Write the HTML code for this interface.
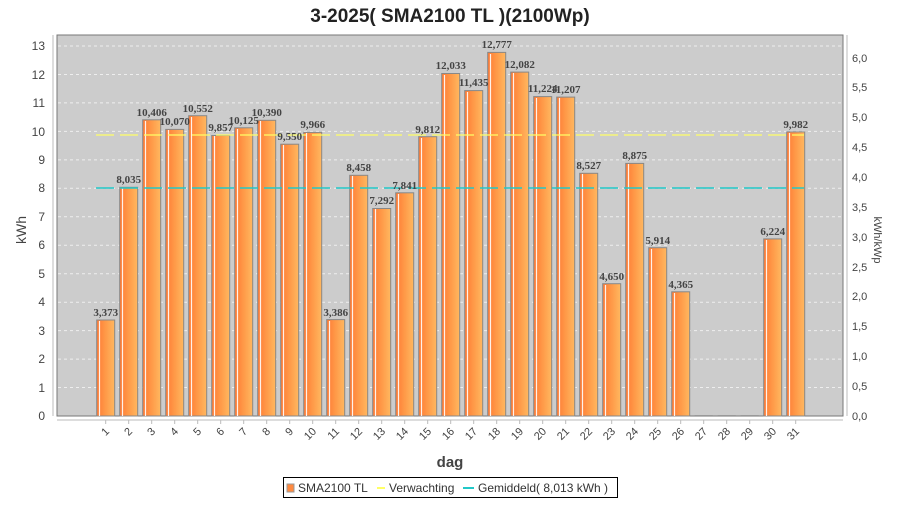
<!DOCTYPE html>
<html><head><meta charset="utf-8"><style>
body{margin:0;background:#fff;}
svg text{font-family:"Liberation Sans",sans-serif;}
svg .v text{font-family:"Liberation Serif",serif;font-weight:bold;font-size:11px;fill:#444;text-anchor:middle;}
.yl{font-size:12px;fill:#444;text-anchor:end;}
.yr{font-size:11px;fill:#444;}
.xl{font-size:11px;fill:#444;text-anchor:end;}
</style></head><body>
<svg width="900" height="500" xmlns="http://www.w3.org/2000/svg">
<defs>
<linearGradient id="g" x1="0" x2="1" y1="0" y2="0">
<stop offset="0" stop-color="#ff7a35"/><stop offset="0.5" stop-color="#ff9a48"/><stop offset="1" stop-color="#ffb860"/>
</linearGradient>
</defs>
<text x="450" y="22" text-anchor="middle" style="font-weight:bold;font-size:19px;fill:#222">3-2025( SMA2100 TL )(2100Wp)</text>
<rect x="57" y="35" width="786" height="381" fill="#cccccc" stroke="#777" stroke-width="1"/>
<g stroke="#eee" stroke-dasharray="3,3" stroke-width="1">
<line x1="58" x2="842" y1="387.5" y2="387.5"/><line x1="58" x2="842" y1="359.1" y2="359.1"/>
<line x1="58" x2="842" y1="330.6" y2="330.6"/><line x1="58" x2="842" y1="302.2" y2="302.2"/>
<line x1="58" x2="842" y1="273.7" y2="273.7"/><line x1="58" x2="842" y1="245.2" y2="245.2"/>
<line x1="58" x2="842" y1="216.8" y2="216.8"/><line x1="58" x2="842" y1="188.3" y2="188.3"/>
<line x1="58" x2="842" y1="159.9" y2="159.9"/><line x1="58" x2="842" y1="131.4" y2="131.4"/>
<line x1="58" x2="842" y1="102.9" y2="102.9"/><line x1="58" x2="842" y1="74.5" y2="74.5"/>
<line x1="58" x2="842" y1="46.0" y2="46.0"/>
</g>
<g fill="url(#g)" stroke="#888" stroke-width="1">
<rect x="96.7" y="320.0" width="18" height="96"/>
<rect x="119.7" y="187.3" width="18" height="228.7"/>
<rect x="142.7" y="119.8" width="18" height="296.2"/>
<rect x="165.7" y="129.4" width="18" height="286.6"/>
<rect x="188.7" y="115.7" width="18" height="300.3"/>
<rect x="211.7" y="135.5" width="18" height="280.5"/>
<rect x="234.7" y="127.8" width="18" height="288.2"/>
<rect x="257.7" y="120.3" width="18" height="295.7"/>
<rect x="280.7" y="144.2" width="18" height="271.8"/>
<rect x="303.7" y="132.4" width="18" height="283.6"/>
<rect x="326.7" y="319.6" width="18" height="96.4"/>
<rect x="349.7" y="175.3" width="18" height="240.7"/>
<rect x="372.7" y="208.5" width="18" height="207.5"/>
<rect x="395.7" y="192.8" width="18" height="223.2"/>
<rect x="418.7" y="136.7" width="18" height="279.3"/>
<rect x="441.7" y="73.5" width="18" height="342.5"/>
<rect x="464.7" y="90.6" width="18" height="325.4"/>
<rect x="487.7" y="52.4" width="18" height="363.6"/>
<rect x="510.7" y="72.1" width="18" height="343.9"/>
<rect x="533.7" y="96.6" width="18" height="319.4"/>
<rect x="556.7" y="97.1" width="18" height="318.9"/>
<rect x="579.7" y="173.3" width="18" height="242.7"/>
<rect x="602.7" y="283.7" width="18" height="132.3"/>
<rect x="625.7" y="163.4" width="18" height="252.6"/>
<rect x="648.7" y="247.7" width="18" height="168.3"/>
<rect x="671.7" y="291.8" width="18" height="124.2"/>
<rect x="763.7" y="238.9" width="18" height="177.1"/>
<rect x="786.7" y="131.9" width="18" height="284.1"/>
</g>
<g stroke="#999" stroke-width="1">
<line x1="694.7" x2="712.7" y1="415.5" y2="415.5"/><line x1="717.7" x2="735.7" y1="415.5" y2="415.5"/><line x1="740.7" x2="758.7" y1="415.5" y2="415.5"/>
</g>
<g stroke="#fff" stroke-width="1.2" opacity="0.9">
<line x1="99.5" x2="99.5" y1="321" y2="416"/><line x1="122.5" x2="122.5" y1="188" y2="416"/>
<line x1="145.5" x2="145.5" y1="121" y2="416"/><line x1="168.5" x2="168.5" y1="130" y2="416"/>
<line x1="191.5" x2="191.5" y1="117" y2="416"/><line x1="214.5" x2="214.5" y1="136" y2="416"/>
<line x1="237.5" x2="237.5" y1="129" y2="416"/><line x1="260.5" x2="260.5" y1="121" y2="416"/>
<line x1="283.5" x2="283.5" y1="145" y2="416"/><line x1="306.5" x2="306.5" y1="133" y2="416"/>
<line x1="329.5" x2="329.5" y1="321" y2="416"/><line x1="352.5" x2="352.5" y1="176" y2="416"/>
<line x1="375.5" x2="375.5" y1="209" y2="416"/><line x1="398.5" x2="398.5" y1="194" y2="416"/>
<line x1="421.5" x2="421.5" y1="138" y2="416"/><line x1="444.5" x2="444.5" y1="75" y2="416"/>
<line x1="467.5" x2="467.5" y1="92" y2="416"/><line x1="490.5" x2="490.5" y1="54" y2="416"/>
<line x1="513.5" x2="513.5" y1="73" y2="416"/><line x1="536.5" x2="536.5" y1="98" y2="416"/>
<line x1="559.5" x2="559.5" y1="98" y2="416"/><line x1="582.5" x2="582.5" y1="174" y2="416"/>
<line x1="605.5" x2="605.5" y1="285" y2="416"/><line x1="628.5" x2="628.5" y1="164" y2="416"/>
<line x1="651.5" x2="651.5" y1="249" y2="416"/><line x1="674.5" x2="674.5" y1="293" y2="416"/>
<line x1="766.5" x2="766.5" y1="240" y2="416"/><line x1="789.5" x2="789.5" y1="133" y2="416"/>
</g>
<line x1="96" x2="804" y1="135" y2="135" stroke="#ffff66" stroke-width="1.2" stroke-dasharray="18,6"/>
<line x1="96" x2="804" y1="188" y2="188" stroke="#22c8c8" stroke-width="1.5" stroke-dasharray="18,6"/>
<g class="v">
<text x="105.7" y="316">3,373</text><text x="128.7" y="183">8,035</text><text x="151.7" y="116">10,406</text>
<text x="174.7" y="125">10,070</text><text x="197.7" y="112">10,552</text><text x="220.7" y="131">9,857</text>
<text x="243.7" y="124">10,125</text><text x="266.7" y="116">10,390</text><text x="289.7" y="140">9,550</text>
<text x="312.7" y="128">9,966</text><text x="335.7" y="316">3,386</text><text x="358.7" y="171">8,458</text>
<text x="381.7" y="204">7,292</text><text x="404.7" y="189">7,841</text><text x="427.7" y="133">9,812</text>
<text x="450.7" y="69">12,033</text><text x="473.7" y="86">11,435</text><text x="496.7" y="48">12,777</text>
<text x="519.7" y="68">12,082</text><text x="542.7" y="92">11,224</text><text x="565.7" y="93">11,207</text>
<text x="588.7" y="169">8,527</text><text x="611.7" y="280">4,650</text><text x="634.7" y="159">8,875</text>
<text x="657.7" y="244">5,914</text><text x="680.7" y="288">4,365</text><text x="772.7" y="235">6,224</text>
<text x="795.7" y="128">9,982</text>
</g>
<line x1="53" x2="53" y1="35" y2="416" stroke="#bbb"/>
<line x1="847" x2="847" y1="35" y2="416" stroke="#bbb"/>
<line x1="57" x2="843" y1="420" y2="420" stroke="#bbb"/>
<g class="yl">
<text x="45" y="420">0</text><text x="45" y="392">1</text><text x="45" y="363">2</text><text x="45" y="335">3</text>
<text x="45" y="306">4</text><text x="45" y="278">5</text><text x="45" y="249">6</text><text x="45" y="221">7</text>
<text x="45" y="192">8</text><text x="45" y="164">9</text><text x="45" y="136">10</text><text x="45" y="107">11</text>
<text x="45" y="79">12</text><text x="45" y="50">13</text>
</g>
<g class="yr">
<text x="852" y="420">0,0</text><text x="852" y="390">0,5</text><text x="852" y="360">1,0</text>
<text x="852" y="330">1,5</text><text x="852" y="300">2,0</text><text x="852" y="271">2,5</text>
<text x="852" y="241">3,0</text><text x="852" y="211">3,5</text><text x="852" y="181">4,0</text>
<text x="852" y="151">4,5</text><text x="852" y="121">5,0</text><text x="852" y="91">5,5</text>
<text x="852" y="62">6,0</text>
</g>
<g class="xl">
<text transform="translate(110,432) rotate(-45)">1</text><text transform="translate(133,432) rotate(-45)">2</text>
<text transform="translate(156,432) rotate(-45)">3</text><text transform="translate(179,432) rotate(-45)">4</text>
<text transform="translate(202,432) rotate(-45)">5</text><text transform="translate(225,432) rotate(-45)">6</text>
<text transform="translate(248,432) rotate(-45)">7</text><text transform="translate(271,432) rotate(-45)">8</text>
<text transform="translate(294,432) rotate(-45)">9</text><text transform="translate(317,432) rotate(-45)">10</text>
<text transform="translate(340,432) rotate(-45)">11</text><text transform="translate(363,432) rotate(-45)">12</text>
<text transform="translate(386,432) rotate(-45)">13</text><text transform="translate(409,432) rotate(-45)">14</text>
<text transform="translate(432,432) rotate(-45)">15</text><text transform="translate(455,432) rotate(-45)">16</text>
<text transform="translate(478,432) rotate(-45)">17</text><text transform="translate(501,432) rotate(-45)">18</text>
<text transform="translate(524,432) rotate(-45)">19</text><text transform="translate(547,432) rotate(-45)">20</text>
<text transform="translate(570,432) rotate(-45)">21</text><text transform="translate(593,432) rotate(-45)">22</text>
<text transform="translate(616,432) rotate(-45)">23</text><text transform="translate(639,432) rotate(-45)">24</text>
<text transform="translate(662,432) rotate(-45)">25</text><text transform="translate(685,432) rotate(-45)">26</text>
<text transform="translate(708,432) rotate(-45)">27</text><text transform="translate(731,432) rotate(-45)">28</text>
<text transform="translate(754,432) rotate(-45)">29</text><text transform="translate(777,432) rotate(-45)">30</text>
<text transform="translate(800,432) rotate(-45)">31</text>
</g>
<g stroke="#bbb">
<line x1="105.7" x2="105.7" y1="420" y2="424"/><line x1="128.7" x2="128.7" y1="420" y2="424"/>
<line x1="151.7" x2="151.7" y1="420" y2="424"/><line x1="174.7" x2="174.7" y1="420" y2="424"/>
<line x1="197.7" x2="197.7" y1="420" y2="424"/><line x1="220.7" x2="220.7" y1="420" y2="424"/>
<line x1="243.7" x2="243.7" y1="420" y2="424"/><line x1="266.7" x2="266.7" y1="420" y2="424"/>
<line x1="289.7" x2="289.7" y1="420" y2="424"/><line x1="312.7" x2="312.7" y1="420" y2="424"/>
<line x1="335.7" x2="335.7" y1="420" y2="424"/><line x1="358.7" x2="358.7" y1="420" y2="424"/>
<line x1="381.7" x2="381.7" y1="420" y2="424"/><line x1="404.7" x2="404.7" y1="420" y2="424"/>
<line x1="427.7" x2="427.7" y1="420" y2="424"/><line x1="450.7" x2="450.7" y1="420" y2="424"/>
<line x1="473.7" x2="473.7" y1="420" y2="424"/><line x1="496.7" x2="496.7" y1="420" y2="424"/>
<line x1="519.7" x2="519.7" y1="420" y2="424"/><line x1="542.7" x2="542.7" y1="420" y2="424"/>
<line x1="565.7" x2="565.7" y1="420" y2="424"/><line x1="588.7" x2="588.7" y1="420" y2="424"/>
<line x1="611.7" x2="611.7" y1="420" y2="424"/><line x1="634.7" x2="634.7" y1="420" y2="424"/>
<line x1="657.7" x2="657.7" y1="420" y2="424"/><line x1="680.7" x2="680.7" y1="420" y2="424"/>
<line x1="703.7" x2="703.7" y1="420" y2="424"/><line x1="726.7" x2="726.7" y1="420" y2="424"/>
<line x1="749.7" x2="749.7" y1="420" y2="424"/><line x1="772.7" x2="772.7" y1="420" y2="424"/>
<line x1="795.7" x2="795.7" y1="420" y2="424"/>
</g>
<text x="450" y="467" text-anchor="middle" style="font-size:15px;font-weight:bold;fill:#444">dag</text>
<text transform="translate(26,230) rotate(-90)" text-anchor="middle" style="font-size:14px;fill:#444">kWh</text>
<text transform="translate(874,240) rotate(90)" text-anchor="middle" style="font-size:11px;fill:#444">kWh/kWp</text>
<rect x="283.5" y="477.5" width="334" height="20" fill="#fff" stroke="#000"/>
<rect x="287" y="484" width="7" height="8" fill="#ff8a40" stroke="#999"/>
<text x="298" y="492" style="font-size:12px;fill:#333">SMA2100 TL</text>
<line x1="377" x2="385" y1="488" y2="488" stroke="#ffff66" stroke-width="2"/>
<text x="389" y="492" style="font-size:12px;fill:#333">Verwachting</text>
<line x1="463" x2="474" y1="488" y2="488" stroke="#22c8c8" stroke-width="2"/>
<text x="478" y="492" style="font-size:12px;fill:#333">Gemiddeld( 8,013 kWh )</text>
</svg>
</body></html>
